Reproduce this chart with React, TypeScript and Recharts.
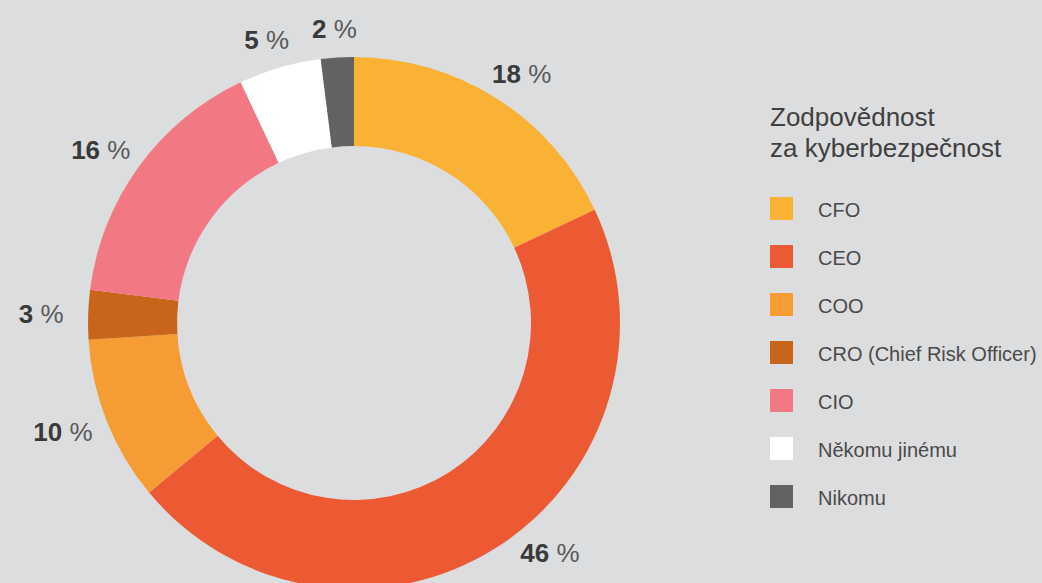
import React from 'react';
import { PieChart, Pie, Cell, Legend } from 'recharts';

const categories = ['CFO', 'CEO', 'COO', 'CRO (Chief Risk Officer)', 'CIO', 'Někomu jinému', 'Nikomu'];
const shares = [18, 46, 10, 3, 16, 5, 2];
const colors = ['#F9B233', '#EB5A32', '#F59C34', '#C9651B', '#F27883', '#FFFFFF', '#626265'];
const legendTitle = ['Zodpovědnost', 'za kyberbezpečnost'];

const data = categories.map((name, i) => ({ name, value: shares[i] }));

const W = 1042;
const H = 583;
const RAD = Math.PI / 180;

// labels sit on an ellipse round the ring, slid along it if they would leave the picture
const renderLabel = (props: any) => {
  const { cx, cy, midAngle, outerRadius, value } = props;
  const rx = outerRadius + 47;
  const ry = outerRadius + 29;
  let a = midAngle * RAD;
  let y = cy - ry * Math.sin(a);
  const maxY = H - 30;
  if (y > maxY) {
    const s = (maxY - cy) / ry;
    const c = Math.cos(a) >= 0 ? 1 : -1;
    a = -Math.asin(s);
    if (c < 0) a = -Math.PI - a;
    y = maxY;
  }
  const x = cx + rx * Math.cos(a);
  return (
    <text
      x={x}
      y={y}
      textAnchor="middle"
      dominantBaseline="central"
      fontFamily="'Liberation Sans', Arial, sans-serif"
      fontSize={26}
    >
      <tspan fontWeight="bold" fill="#3a3a3a">{value}</tspan>
      <tspan fill="#5a5a5a">{' %'}</tspan>
    </text>
  );
};

const renderLegend = () => (
  <div style={{ fontFamily: "'Liberation Sans', Arial, sans-serif", color: '#404040' }}>
    <div style={{ fontSize: 26, lineHeight: '31px', marginBottom: 20 }}>
      {legendTitle.map((t) => (
        <div key={t}>{t}</div>
      ))}
    </div>
    {categories.map((c, i) => (
      <div key={c} style={{ display: 'flex', alignItems: 'center', height: 48 }}>
        <div style={{ width: 23, height: 23, background: colors[i], marginRight: 25 }} />
        <span style={{ fontSize: 20, color: '#4a4a4a', paddingTop: 4, whiteSpace: 'nowrap' }}>{c}</span>
      </div>
    ))}
  </div>
);

export default function App() {
  return (
    <div style={{ position: 'fixed', left: 0, top: 0, width: W, height: H, background: '#DCDDDE' }}>
      <PieChart width={W} height={H} margin={{ top: 0, right: 0, bottom: 0, left: 0 }}>
        <Pie
          data={data}
          dataKey="value"
          nameKey="name"
          cx={354}
          cy={323}
          innerRadius={177}
          outerRadius={266}
          startAngle={90}
          endAngle={-270}
          stroke="none"
          label={renderLabel}
          labelLine={false}
          isAnimationActive={false}
        >
          {data.map((d, i) => (
            <Cell key={d.name} fill={colors[i]} />
          ))}
        </Pie>
        <Legend
          content={renderLegend}
          wrapperStyle={{ position: 'absolute', left: 770, top: 102, width: 272 }}
        />
      </PieChart>
    </div>
  );
}
